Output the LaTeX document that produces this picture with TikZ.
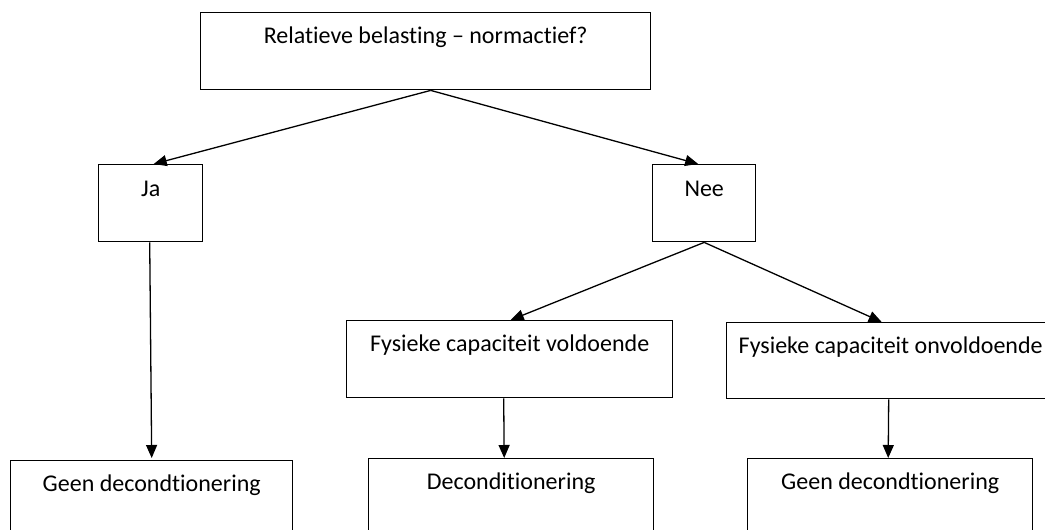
\documentclass[tikz,border=0pt]{standalone}
\usepackage{fontspec}
\setmainfont[RawFeature={-liga;-clig;-calt;-dlig}]{Carlito}
\usetikzlibrary{arrows.meta,calc}
\begin{document}
\begin{tikzpicture}[x=1pt,y=-1pt,
  box/.style={draw=black, line width=1.4pt, rectangle, inner sep=0pt, anchor=north west},
  txt/.style={anchor=center, yshift=-25pt, inner sep=0pt, font=\fontsize{24}{28}\selectfont},
  conn/.style={draw=black, line width=1.3pt},
  arr/.style={conn, -{Triangle[length=13pt,width=11pt]}}]
\useasboundingbox (0,0) rectangle (1045,530);
\begin{scope}
\clip (0,0) rectangle (1045,530);
\node[box, minimum width=450pt, minimum height=77pt, label={[txt]north:Relatieve belasting – normactief?}] (top) at (200,12) {};
\node[box, minimum width=104pt, minimum height=77pt, label={[txt]north:Ja}] (ja) at (98,164) {};
\node[box, minimum width=103pt, minimum height=77pt, label={[txt]north:Nee}] (nee) at (652,164) {};
\node[box, minimum width=326pt, minimum height=77pt, label={[txt]north:Fysieke capaciteit voldoende}] (fcv) at (346,320) {};
\node[box, minimum width=328pt, minimum height=76pt, label={[txt]north:Fysieke capaciteit onvoldoende}] (fco) at (726,322) {};
\node[box, minimum width=282pt, minimum height=90pt, label={[txt]north:Geen decondtionering}] (g1) at (10,460) {};
\node[box, minimum width=285pt, minimum height=90pt, label={[txt]north:Deconditionering}] (dec) at (368,458) {};
\node[box, minimum width=285pt, minimum height=90pt, label={[txt]north:Geen decondtionering}] (g3) at (747,458) {};
\end{scope}
\coordinate (tops) at ($(top.south)+(5,0)$);
\draw[arr] (tops) -- ($(ja.north)+(3,0)$);
\draw[arr] (tops) -- ($(nee.north)+(-6,0)$);
\draw[arr] ($(ja.south)+(-1,0)$) -- ($(g1.north)+(0,-2)$);
\draw[arr] (nee.south) -- ($(fcv.north)+(1,0)$);
\draw[arr] (nee.south) -- ($(fco.north)+(-9,0)$);
\draw[arr] ($(fcv.south)+(-6,0)$) -- ($(dec.north)+(-7,0)$);
\draw[arr] ($(fco.south)+(-2,0)$) -- ($(g3.north)+(-2,0)$);
\end{tikzpicture}
\end{document}
